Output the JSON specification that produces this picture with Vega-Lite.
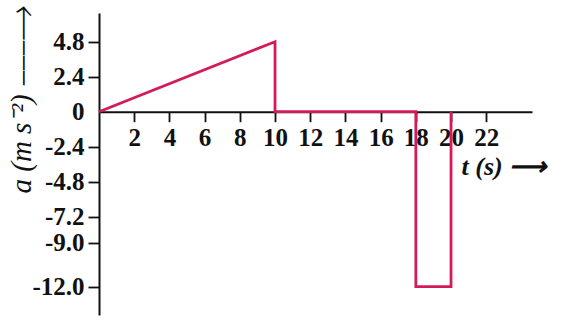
{
  "$schema": "https://vega.github.io/schema/vega-lite/v6.json",
  "width": 433,
  "height": 302,
  "autosize": "none",
  "padding": {"left": 99, "top": 13, "right": 32, "bottom": 6},
  "background": "white",
  "config": {"view": {"stroke": null}},
  "data": {
    "values": [
      {"i": 0, "t": 0, "a": 0},
      {"i": 1, "t": 10, "a": 4.8},
      {"i": 2, "t": 10, "a": 0},
      {"i": 3, "t": 18, "a": 0},
      {"i": 4, "t": 18, "a": -12.0},
      {"i": 5, "t": 20, "a": -12.0},
      {"i": 6, "t": 20, "a": 0}
    ]
  },
  "mark": {"type": "line", "color": "#d31a5a", "strokeWidth": 2.8, "strokeJoin": "miter", "clip": false},
  "encoding": {
    "x": {
      "field": "t",
      "type": "quantitative",
      "scale": {"domain": [0, 24.6], "nice": false, "zero": false},
      "axis": {
        "orient": "bottom",
        "offset": -203.3,
        "values": [2, 4, 6, 8, 10, 12, 14, 16, 18, 20, 22],
        "grid": false,
        "domainColor": "#111",
        "domainWidth": 2,
        "tickColor": "#111",
        "tickWidth": 1.8,
        "tickSize": 10,
        "labelPadding": 4,
        "labelFont": "Liberation Serif",
        "labelFontWeight": "bold",
        "labelFontSize": 25,
        "labelColor": "#111",
        "labelFlush": false,
        "labelOverlap": false,
        "title": "t (s)   ⟶",
        "titleFont": "Liberation Serif",
        "titleFontStyle": "italic",
        "titleFontWeight": "bold",
        "titleFontSize": 26,
        "titleColor": "#111",
        "titleAlign": "left",
        "titleBaseline": "middle",
        "titleAnchor": null,
        "titleX": 362,
        "titleY": 55
      }
    },
    "y": {
      "field": "a",
      "type": "quantitative",
      "scale": {"domain": [-13.94, 6.77], "nice": false, "zero": false},
      "axis": {
        "orient": "left",
        "values": [4.8, 2.4, 0, -2.4, -4.8, -7.2, -9.0, -12.0],
        "labelExpr": "datum.value === 0 ? '0' : (datum.value < 0 ? '-' : '') + format(abs(datum.value), '.1f')",
        "grid": false,
        "domainColor": "#111",
        "domainWidth": 2,
        "tickColor": "#111",
        "tickWidth": 1.8,
        "tickSize": 11,
        "tickOpacity": {"condition": {"test": "datum.value === 0", "value": 0}, "value": 1},
        "labelPadding": 4,
        "labelFont": "Liberation Serif",
        "labelFontWeight": "bold",
        "labelFontSize": 25,
        "labelColor": "#111",
        "labelFlush": false,
        "labelOverlap": false,
        "title": "a (m s⁻²)   ⎯⎯⎯⟶",
        "titleFont": "Liberation Serif",
        "titleFontStyle": "italic",
        "titleFontWeight": "normal",
        "titleFontSize": 29,
        "titleColor": "#111",
        "titleAngle": -90,
        "titleAlign": "left",
        "titleBaseline": "middle",
        "titleAnchor": null,
        "titleX": -78,
        "titleY": 180
      }
    },
    "order": {"field": "i"}
  }
}
